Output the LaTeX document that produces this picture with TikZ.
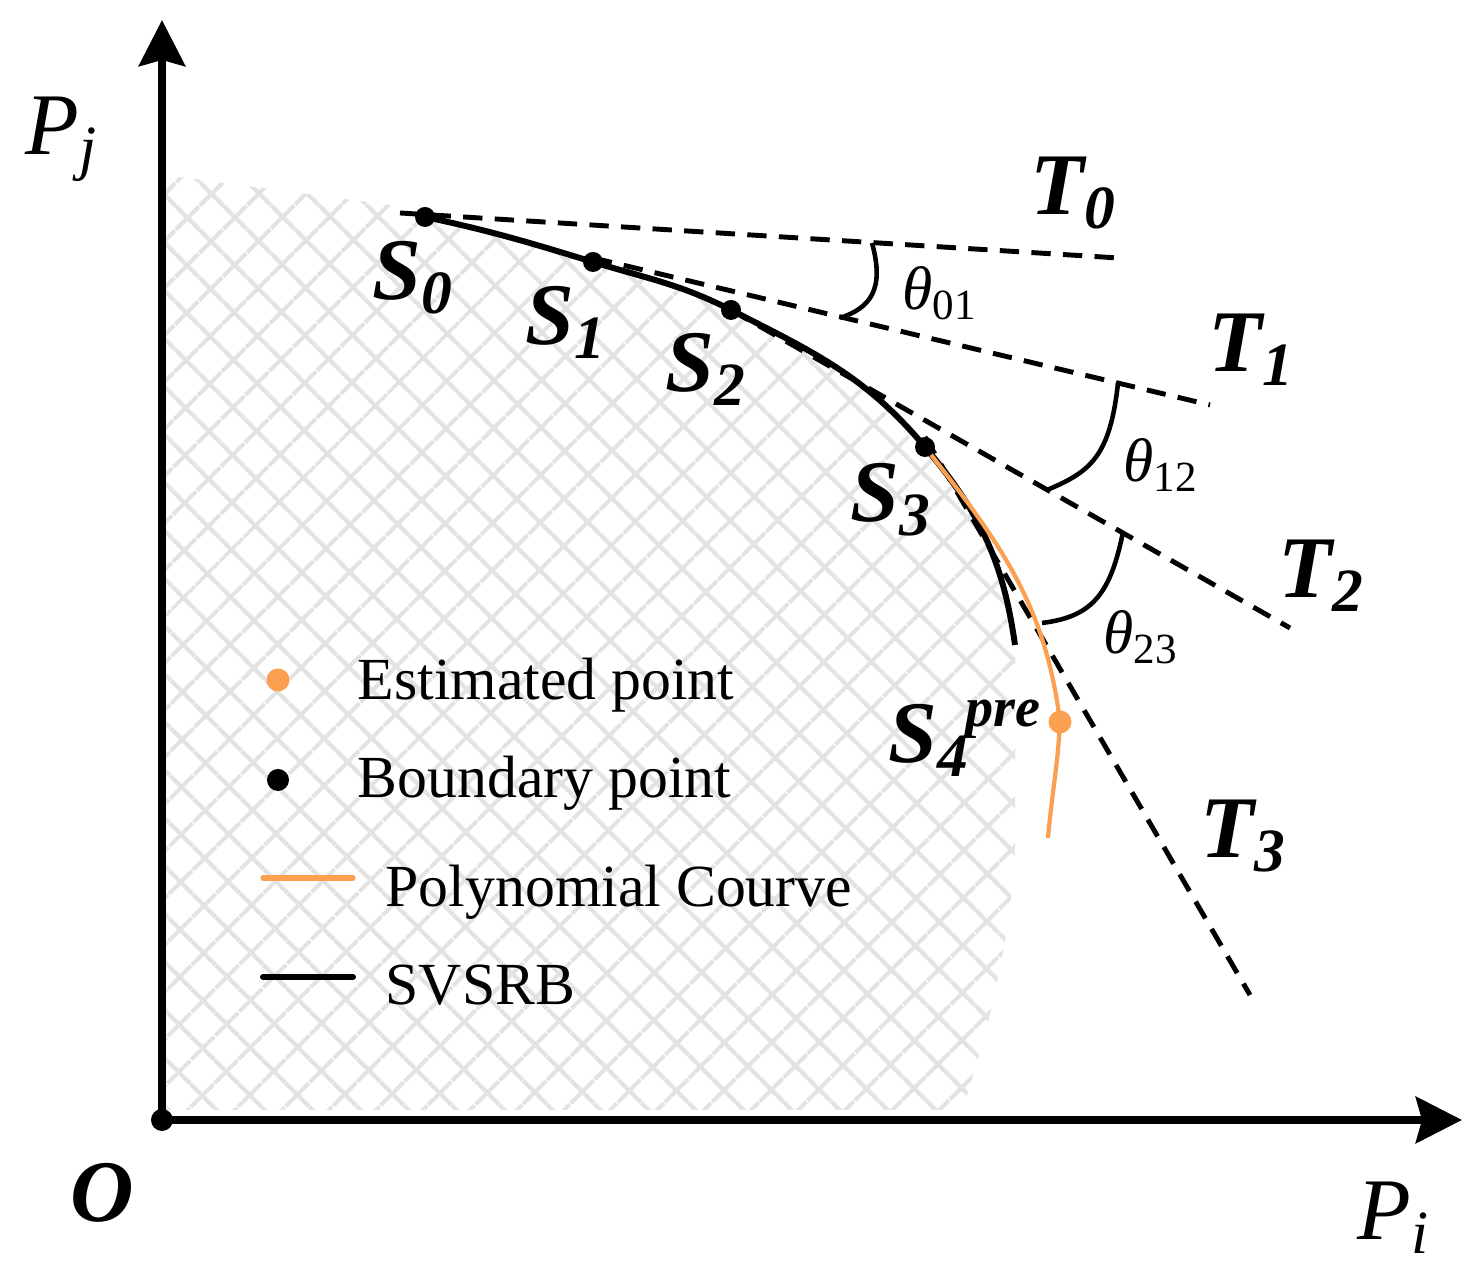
\documentclass[tikz,border=0pt]{standalone}
\usepackage{fontspec}
\setmainfont{Liberation Serif}
\usetikzlibrary{arrows.meta,patterns.meta}
\definecolor{estorange}{RGB}{250,160,80}

\begin{document}
\begin{tikzpicture}

\tikzstyle{axis}=[line width=2.3pt,-{Stealth[length=0.46cm,width=0.46cm,inset=0.06cm]}]
\tikzstyle{bdot}=[circle, fill=black, inner sep=0pt, minimum size=0.2cm]
\tikzstyle{edot}=[circle, fill=estorange, inner sep=0pt, minimum size=0.23cm]
\tikzstyle{tline}=[line width=1.4pt, dash pattern=on 5.5pt off 3.5pt]
\tikzstyle{svsrb}=[line width=1.7pt]
\tikzstyle{poly}=[line width=1.2pt, estorange]
\tikzstyle{angarc}=[line width=1.3pt]
\tikzstyle{hatch}=[pattern={Hatch[angle=45,distance=0.34cm,line width=1.3pt]}, pattern color=gray!22]
\tikzstyle{bigital}=[anchor=base west, inner sep=0pt, font=\fontsize{25}{30}\selectfont\bfseries\itshape]
\tikzstyle{axlabel}=[anchor=base west, inner sep=0pt, font=\fontsize{25}{30}\selectfont\itshape]
\tikzstyle{anglabel}=[anchor=base west, inner sep=0pt, font=\fontsize{17.5}{21}\selectfont]
\tikzstyle{legtext}=[anchor=base west, inner sep=0pt, font=\fontsize{17}{20}\selectfont]

\useasboundingbox (0,0) rectangle (14.77,12.77);

\coordinate (s0) at (4.25,10.60);
\coordinate (s1) at (5.93,10.15);
\coordinate (s2) at (7.31,9.67);
\coordinate (s3) at (9.25,8.30);
\coordinate (s4) at (10.60,5.55);
\coordinate (svend) at (10.15,6.32);
\coordinate (polyend) at (10.48,4.39);

\coordinate (t0a) at (4.00,10.64);
\coordinate (t0b) at (11.18,10.19);
\coordinate (t1a) at (5.93,10.19);
\coordinate (t1b) at (12.10,8.72);
\coordinate (t2b) at (12.90,6.49);
\coordinate (t3a) at (9.25,8.40);
\coordinate (t3b) at (12.50,2.82);

\fill [hatch] (s0) to[out=-12,in=163] (s1) to[out=-17,in=153] (s2) to[out=-27,in=130] (s3) to[out=-50,in=98] (svend)
   -- (10.15,4.30) .. controls (10.10,3.20) and (9.80,2.20) .. (9.62,1.67) -- (1.65,1.67) -- (1.65,11.02) -- (3.90,10.72) -- cycle;

\node (O) [bdot, minimum size=0.22cm] at (1.62,1.57) {};
\coordinate (ytip) at (1.62,12.57);
\coordinate (xtip) at (14.62,1.57);
\draw [axis] (O.center) -- (ytip);
\draw [axis] (O.center) -- (xtip);

\draw [tline] (t0a) -- (t0b);
\draw [tline] (t1a) -- (t1b);
\draw [tline] (s2) -- (t2b);
\draw [tline] (t3a) -- (t3b);

\draw [svsrb] (s0) to[out=-12,in=163] (s1) to[out=-17,in=153] (s2) to[out=-27,in=130] (s3) to[out=-50,in=98] (svend);
\draw [poly] (s3) to[out=-52,in=97] (s4) to[out=-93,in=85] (polyend);

\draw [angarc] (8.72,10.34) .. controls (8.85,9.87) and (8.70,9.69) .. (8.40,9.59);
\draw [angarc] (11.18,8.94) .. controls (11.10,8.20) and (10.90,8.05) .. (10.47,7.87);
\draw [angarc] (11.23,7.45) .. controls (11.10,6.80) and (10.90,6.60) .. (10.42,6.54);

\node (S0) [bdot] at (s0) {};
\node (S1) [bdot] at (s1) {};
\node (S2) [bdot] at (s2) {};
\node (S3) [bdot] at (s3) {};
\node (S4) [edot] at (s4) {};

\node (Pj) [axlabel] at (0.25,11.22) {P\textsubscript{j}};
\node (Pi) [axlabel] at (13.57,0.37) {P\textsubscript{i}};
\node (Olbl) [bigital] at (0.70,0.55) {O};

\node (T0) [bigital] at (10.30,10.62) {T\textsubscript{0}};
\node (T1) [bigital] at (12.08,9.05) {T\textsubscript{1}};
\node (T2) [bigital] at (12.78,6.79) {T\textsubscript{2}};
\node (T3) [bigital] at (12.00,4.19) {T\textsubscript{3}};

\node (S0lbl) [bigital] at (3.72,9.77) {S\textsubscript{0}};
\node (S1lbl) [bigital] at (5.25,9.32) {S\textsubscript{1}};
\node (S2lbl) [bigital] at (6.65,8.85) {S\textsubscript{2}};
\node (S3lbl) [bigital] at (8.50,7.55) {S\textsubscript{3}};
\node (S4lbl) [bigital] at (8.88,5.14) {S\textsubscript{4}\kern-0.05em\raisebox{0.42em}{\fontsize{16}{18}\selectfont pre}};

\node (th01) [anglabel] at (9.02,9.67) {\textit{θ}\textsubscript{01}};
\node (th12) [anglabel] at (11.23,7.95) {\textit{θ}\textsubscript{12}};
\node (th23) [anglabel] at (11.03,6.23) {\textit{θ}\textsubscript{23}};

\node (legE) [edot] at (2.78,5.97) {};
\node (legB) [bdot, minimum size=0.22cm] at (2.78,4.97) {};
\coordinate (lpa) at (2.63,3.99);
\coordinate (lpb) at (3.53,3.99);
\coordinate (lsa) at (2.63,3.00);
\coordinate (lsb) at (3.53,3.00);
\draw [poly, line width=1.5pt, line cap=round] (lpa) -- (lpb);
\draw [svsrb, line cap=round] (lsa) -- (lsb);

\node (legEtxt) [legtext] at (3.57,5.77) {Estimated point};
\node (legBtxt) [legtext] at (3.57,4.79) {Boundary point};
\node (legPtxt) [legtext] at (3.85,3.70) {Polynomial Courve};
\node (legStxt) [legtext] at (3.85,2.72) {SVSRB};

\end{tikzpicture}
\end{document}
